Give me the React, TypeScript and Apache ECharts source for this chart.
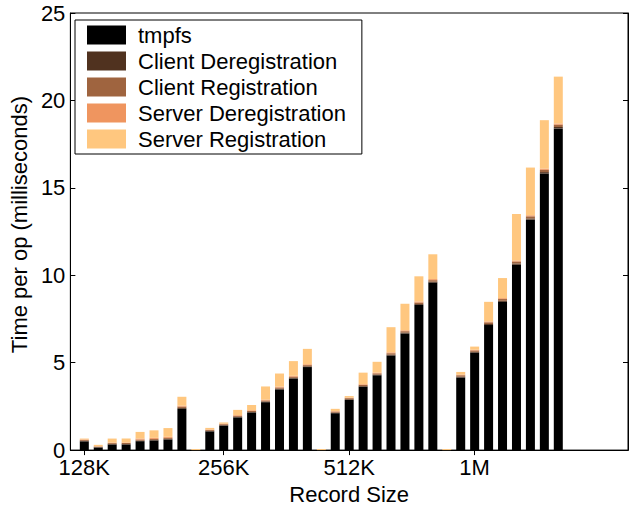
import React, { useEffect, useRef } from "react";
import * as echarts from "echarts";

// Record sizes (x tick labels) and the slot where each label sits
const recordSizes = ["128K", "256K", "512K", "1M"];
const tickSlots = [0, 10, 19, 28];

// 4 groups x 8 bars (ms per op)
const tmpfs = [
  0.5, 0.15, 0.32, 0.32, 0.51, 0.55, 0.6, 2.36,
  1.07, 1.4, 1.87, 2.15, 2.74, 3.47, 4.09, 4.75,
  2.11, 2.87, 3.62, 4.28, 5.41, 6.67, 8.3, 9.58,
  4.15, 5.57, 7.15, 8.48, 10.6, 13.18, 15.82, 18.4,
];
const clientDereg = [
  0.03, 0.02, 0.03, 0.03, 0.03, 0.03, 0.04, 0.05,
  0.03, 0.03, 0.03, 0.03, 0.04, 0.04, 0.04, 0.04,
  0.03, 0.04, 0.04, 0.04, 0.05, 0.05, 0.05, 0.05,
  0.05, 0.05, 0.06, 0.06, 0.07, 0.07, 0.08, 0.08,
];
const clientReg = [
  0.05, 0.03, 0.05, 0.05, 0.06, 0.06, 0.06, 0.08,
  0.05, 0.05, 0.06, 0.06, 0.06, 0.07, 0.07, 0.07,
  0.06, 0.06, 0.07, 0.07, 0.08, 0.08, 0.09, 0.09,
  0.08, 0.08, 0.1, 0.1, 0.12, 0.12, 0.13, 0.13,
];
const serverDereg = [
  0.03, 0.02, 0.03, 0.03, 0.06, 0.06, 0.06, 0.05,
  0.03, 0.03, 0.04, 0.04, 0.05, 0.05, 0.05, 0.05,
  0.03, 0.03, 0.04, 0.04, 0.05, 0.05, 0.06, 0.06,
  0.04, 0.04, 0.05, 0.05, 0.06, 0.06, 0.07, 0.07,
];
const serverReg = [
  0.05, 0.08, 0.23, 0.23, 0.38, 0.43, 0.5, 0.51,
  0.09, 0.07, 0.3, 0.3, 0.75, 0.75, 0.84, 0.88,
  0.13, 0.09, 0.66, 0.62, 1.44, 1.52, 1.44, 1.42,
  0.15, 0.18, 1.12, 1.15, 2.65, 2.73, 2.77, 2.68,
];
// small separator stubs after the first three groups
const separatorServerReg = [0.06, 0.06, 0.06];

const seriesNames = [
  "tmpfs",
  "Client Deregistration",
  "Client Registration",
  "Server Deregistration",
  "Server Registration",
];
const seriesColors = ["#000000", "#50321F", "#9F643F", "#EF955F", "#FFC77F"];

const BARS_PER_GROUP = 8;
const SLOTS_PER_GROUP = 9;
const FIRST_SLOT = -1;
const LAST_SLOT = 39;
const slots: number[] = [];
for (let s = FIRST_SLOT; s <= LAST_SLOT; s++) slots.push(s);

function buildData(values: number[], sepValues: number[] | null) {
  const out: (number | null)[] = slots.map(() => null);
  values.forEach((v, i) => {
    const g = Math.floor(i / BARS_PER_GROUP);
    const slot = g * SLOTS_PER_GROUP + (i % BARS_PER_GROUP);
    out[slot - FIRST_SLOT] = v;
  });
  for (let g = 0; g < 3; g++) {
    const slot = g * SLOTS_PER_GROUP + BARS_PER_GROUP;
    out[slot - FIRST_SLOT] = sepValues ? sepValues[g] : 0;
  }
  return out;
}

const isTickIndex = (idx: number) => tickSlots.indexOf(slots[idx]) >= 0;

const FONT = "'Liberation Sans', Arial, Helvetica, sans-serif";

export default function App() {
  const ref = useRef<HTMLDivElement>(null);
  useEffect(() => {
    if (!ref.current) return;
    const chart = echarts.init(ref.current, null, { renderer: "svg" });
    const all = [tmpfs, clientDereg, clientReg, serverDereg, serverReg];
    const series = all.map((vals, k) => ({
      name: seriesNames[k],
      type: "bar",
      stack: "total",
      barWidth: 9,
      xAxisIndex: 0,
      yAxisIndex: 0,
      itemStyle: { color: seriesColors[k] },
      data: buildData(vals, k === 4 ? separatorServerReg : null),
    }));
    const catLabels = slots.map((s) => {
      const t = tickSlots.indexOf(s);
      return t >= 0 ? recordSizes[t] : "";
    });
    chart.setOption({
      animation: false,
      backgroundColor: "#ffffff",
      textStyle: { fontFamily: FONT, color: "#000" },
      grid: {
        left: 68,
        top: 13,
        width: 560,
        height: 442,
        show: true,
        borderColor: "#000",
        borderWidth: 1,
        backgroundColor: "transparent",
      },
      legend: {
        orient: "vertical",
        left: 75,
        top: 20,
        itemWidth: 39,
        itemHeight: 19,
        itemGap: 4,
        padding: [4, 16, 4, 12],
        borderColor: "#000",
        borderWidth: 1,
        borderRadius: 0,
        backgroundColor: "#fff",
        icon: "rect",
        data: seriesNames,
        textStyle: {
          fontFamily: FONT,
          fontSize: 22,
          lineHeight: 22,
          color: "#000",
          padding: [0, 0, 0, 7],
        },
      },
      xAxis: [
        {
          type: "category",
          data: catLabels,
          boundaryGap: false,
          position: "bottom",
          name: "Record Size",
          nameLocation: "middle",
          nameGap: 26,
          nameTextStyle: { fontFamily: FONT, fontSize: 22, color: "#000" },
          axisLine: { show: true, lineStyle: { color: "#000", width: 1 } },
          axisTick: {
            show: true,
            inside: true,
            length: 5,
            interval: (idx: number) => isTickIndex(idx),
            lineStyle: { color: "#000" },
          },
          axisLabel: {
            show: true,
            interval: (idx: number) => isTickIndex(idx),
            fontFamily: FONT,
            fontSize: 22,
            color: "#000",
            margin: 6,
          },
          splitLine: { show: false },
        },
        {
          type: "category",
          data: catLabels,
          boundaryGap: false,
          position: "top",
          axisLine: { show: true, lineStyle: { color: "#000", width: 1 } },
          axisTick: {
            show: true,
            inside: true,
            length: 5,
            interval: (idx: number) => isTickIndex(idx),
            lineStyle: { color: "#000" },
          },
          axisLabel: { show: false },
          splitLine: { show: false },
        },
      ],
      yAxis: [
        {
          type: "value",
          min: 0,
          max: 25,
          interval: 5,
          position: "left",
          name: "Time per op (milliseconds)",
          nameLocation: "middle",
          nameGap: 34,
          nameTextStyle: { fontFamily: FONT, fontSize: 22, color: "#000", padding: [0, 0, 0, 14] },
          axisLine: { show: true, lineStyle: { color: "#000", width: 1 } },
          axisTick: { show: true, inside: true, length: 5, lineStyle: { color: "#000" } },
          axisLabel: { fontFamily: FONT, fontSize: 22, color: "#000", margin: 5 },
          splitLine: { show: false },
        },
        {
          type: "value",
          min: 0,
          max: 25,
          interval: 5,
          position: "right",
          axisLine: { show: true, lineStyle: { color: "#000", width: 1 } },
          axisTick: { show: true, inside: true, length: 5, lineStyle: { color: "#000" } },
          axisLabel: { show: false },
          splitLine: { show: false },
        },
      ],
      series,
    });
    return () => chart.dispose();
  }, []);
  return (
    <div
      ref={ref}
      style={{ position: "absolute", left: 0, top: 0, width: 634, height: 510 }}
    />
  );
}
